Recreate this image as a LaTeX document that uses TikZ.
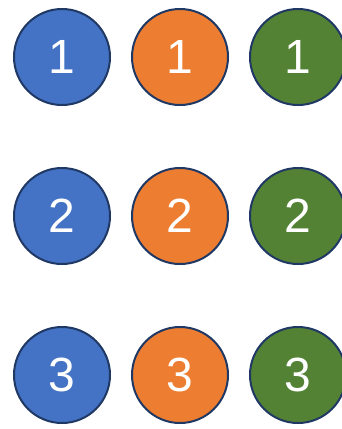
\documentclass[tikz,border=0pt]{standalone}
\usepackage{fontspec}
\setmainfont{Liberation Sans}
\usetikzlibrary{positioning}
\definecolor{ballblue}{HTML}{4472C4}
\definecolor{ballorange}{HTML}{ED7D31}
\definecolor{ballgreen}{HTML}{548235}
\definecolor{ballborder}{HTML}{1F3864}
\tikzset{
  ball/.style={
    circle,
    draw=ballborder,
    line width=2pt,
    minimum size=96pt,
    inner sep=0pt,
    text=white,
    font=\fontsize{48}{48}\selectfont
  }
}
\begin{document}
\begin{tikzpicture}[x=1pt, y=1pt]
  \useasboundingbox (0,0) rectangle (341,-429);
  \node[ball, fill=ballblue] (blue1) at (62,-57) {1};
  \node[ball, fill=ballorange, right=20pt of blue1] (orange1) {1};
  \node[ball, fill=ballgreen, right=20pt of orange1] (green1) {1};
  \node[ball, fill=ballblue, below=61pt of blue1] (blue2) {2};
  \node[ball, fill=ballorange, right=20pt of blue2] (orange2) {2};
  \node[ball, fill=ballgreen, right=20pt of orange2] (green2) {2};
  \node[ball, fill=ballblue, below=61pt of blue2] (blue3) {3};
  \node[ball, fill=ballorange, right=20pt of blue3] (orange3) {3};
  \node[ball, fill=ballgreen, right=20pt of orange3] (green3) {3};
\end{tikzpicture}
\end{document}
